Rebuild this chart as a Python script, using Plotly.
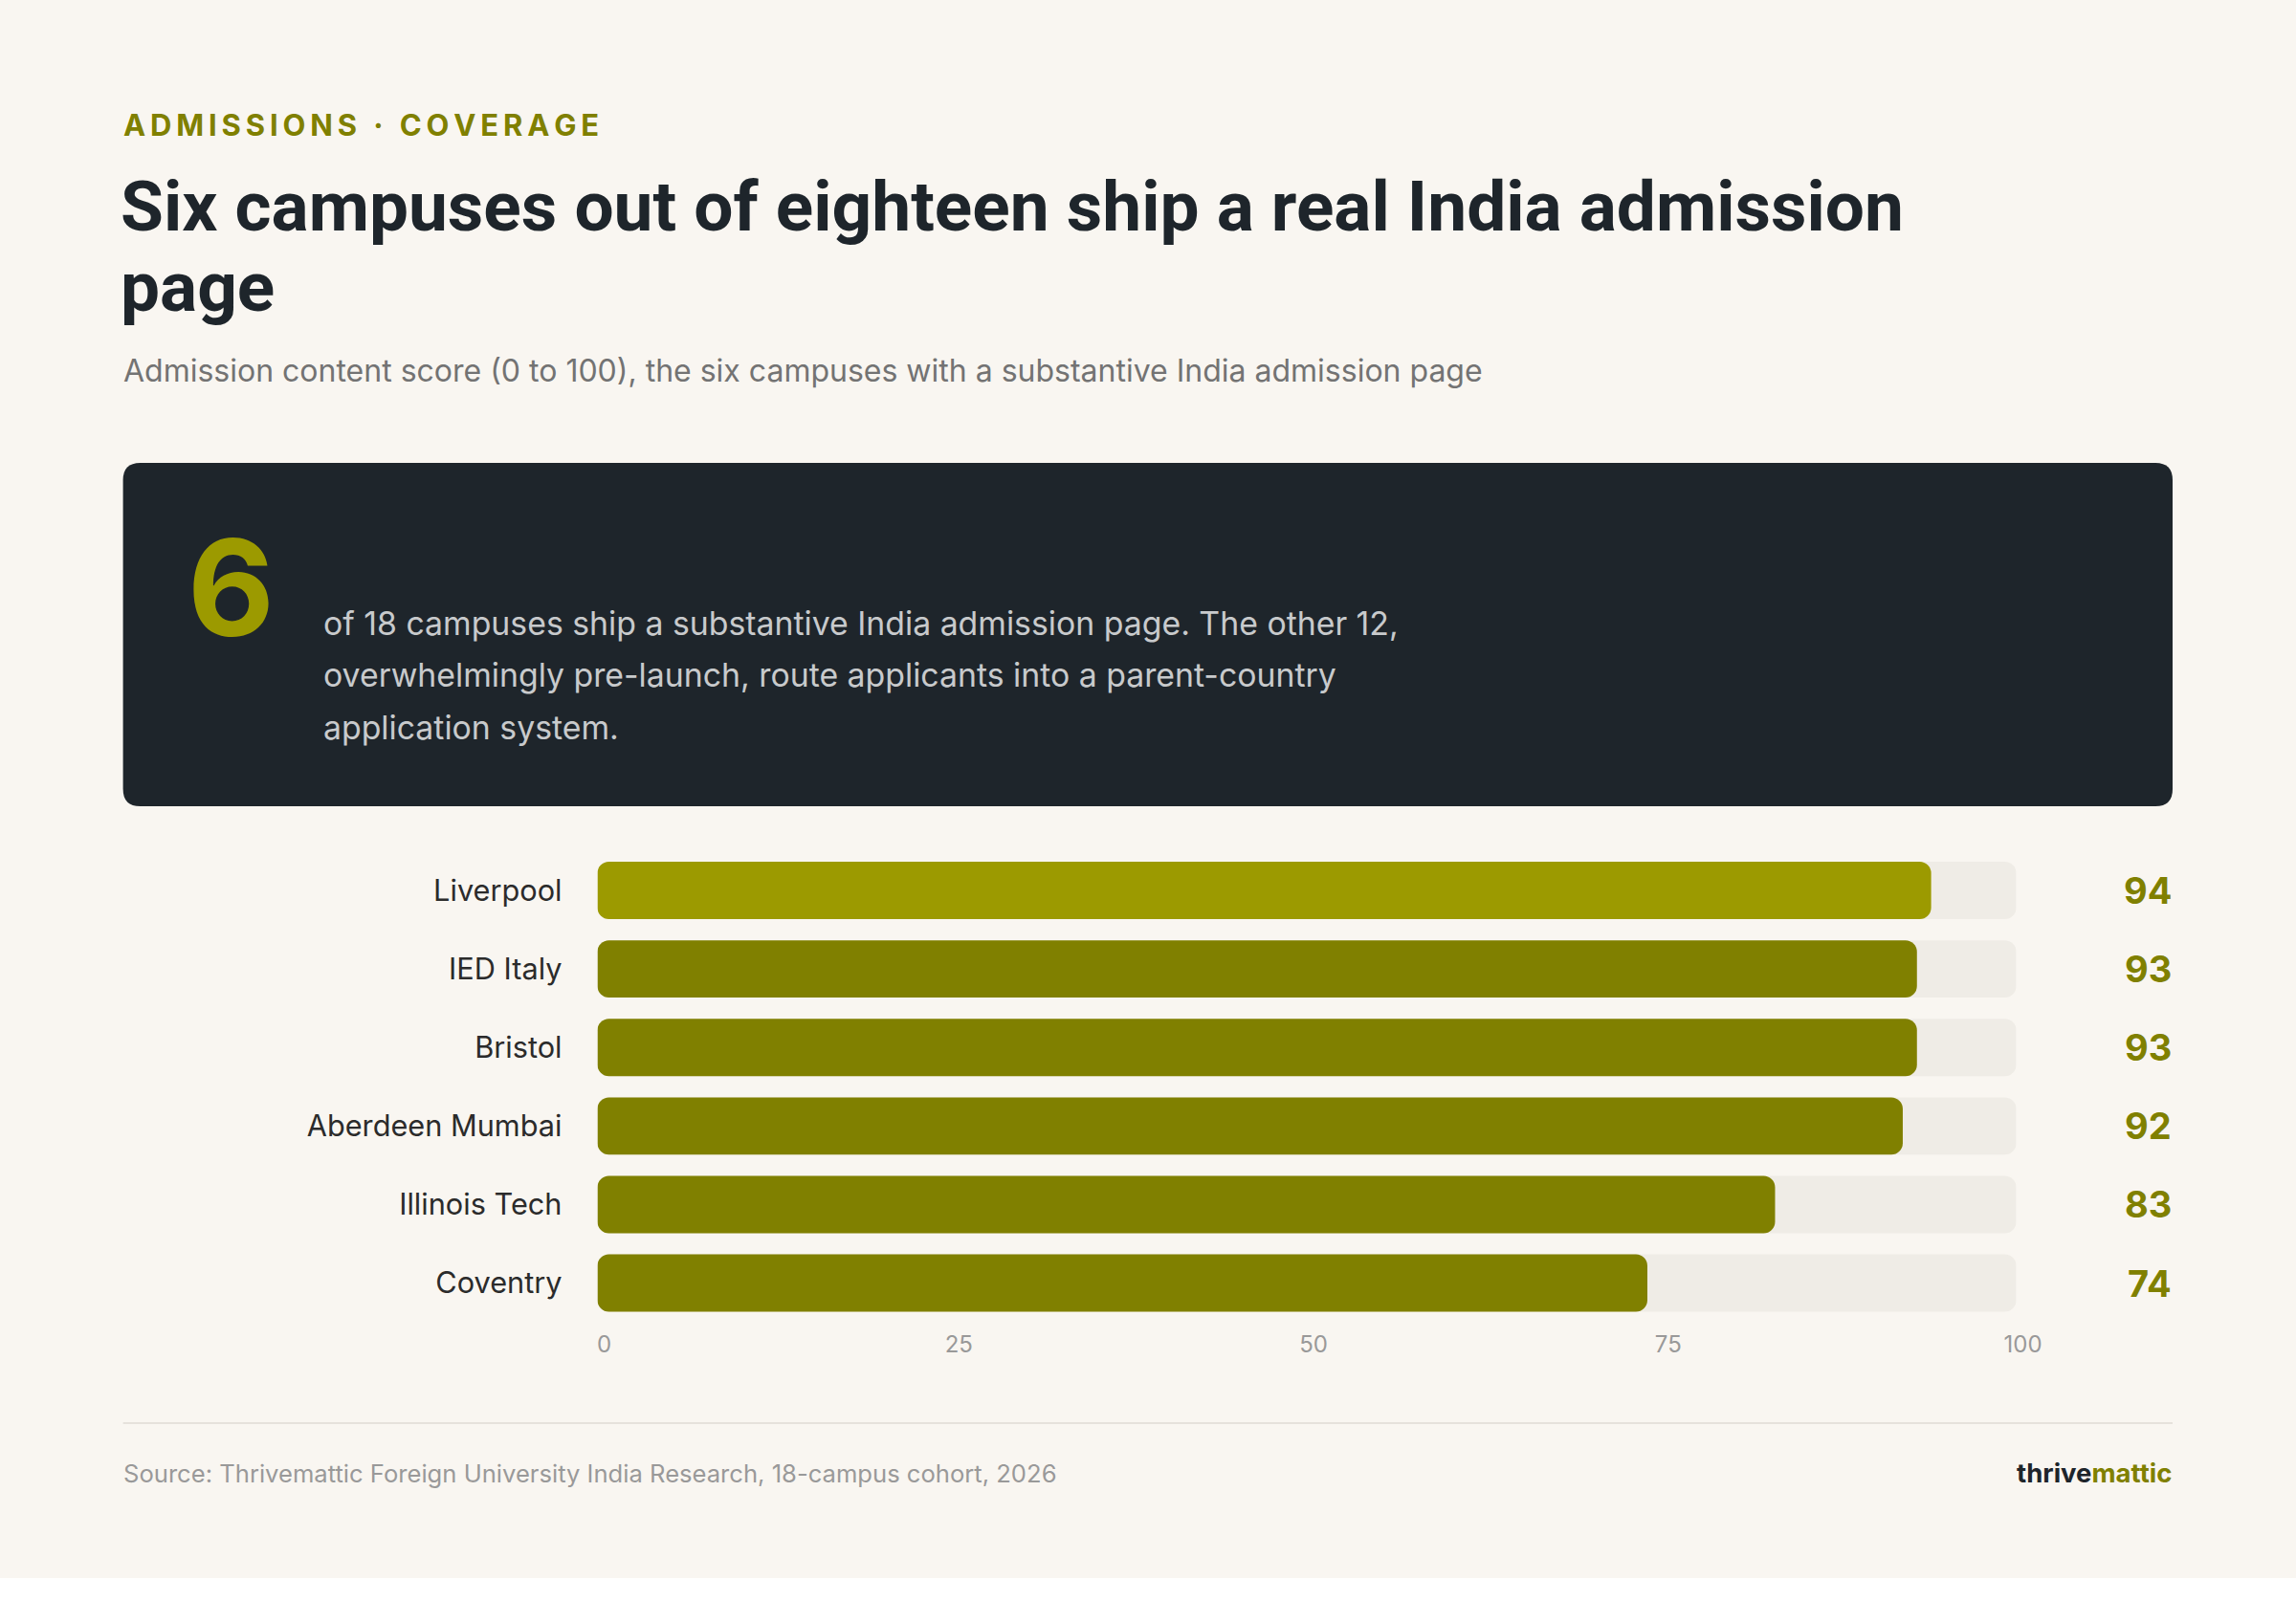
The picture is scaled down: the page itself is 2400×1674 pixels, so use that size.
import plotly.graph_objects as go

# ---- data ----
campuses = ["Liverpool", "IED Italy", "Bristol", "Aberdeen Mumbai", "Illinois Tech", "Coventry"]
scores = [94, 93, 93, 92, 83, 74]
scale_max = 100
tick_values = [0, 25, 50, 75, 100]
tick_labels = ["0", "25", "50", "75", "100"]

kicker = "ADMISSIONS · COVERAGE"
title_lines = ["Six campuses out of eighteen ship a real India admission", "page"]
subtitle = "Admission content score (0 to 100), the six campuses with a substantive India admission page"
big_number = "6"
callout_lines = [
    "of 18 campuses ship a substantive India admission page. The other 12,",
    "overwhelmingly pre-launch, route applicants into a parent-country",
    "application system.",
]
source = "Source: Thrivemattic Foreign University India Research, 18-campus cohort, 2026"

# ---- style ----
W, H = 2400, 1650
BG = "#f9f6f1"
OLIVE = "#808000"
OLIVE_HI = "#9c9a00"
DARK = "#1e252b"
TRACK = "#efece6"
FONT = "Inter"
BAR_W = 0.73


def px(x):
    return x / W


def py(y):
    return 1 - y / H


def rounded_rect(x0, y0, x1, y1, r):
    # pixel coords (y downwards) -> paper path
    X0, X1 = px(x0), px(x1)
    YT, YB = py(y0), py(y1)
    rx, ry = r / W, r / H
    return (f"M {X0+rx},{YT} L {X1-rx},{YT} Q {X1},{YT} {X1},{YT-ry} "
            f"L {X1},{YB+ry} Q {X1},{YB} {X1-rx},{YB} "
            f"L {X0+rx},{YB} Q {X0},{YB} {X0},{YB+ry} "
            f"L {X0},{YT-ry} Q {X0},{YT} {X0+rx},{YT} Z")


bar_colors = [OLIVE_HI if i == 0 else OLIVE for i in range(len(scores))]

fig = go.Figure()
# explicit base -> plotly rounds both ends of the bar
fig.add_trace(go.Bar(
    y=campuses, x=[scale_max] * len(campuses), base=[0] * len(campuses), orientation="h",
    marker=dict(color=TRACK, line=dict(width=0)), width=BAR_W,
    hoverinfo="skip", showlegend=False,
))
fig.add_trace(go.Bar(
    y=campuses, x=scores, base=[0] * len(campuses), orientation="h",
    marker=dict(color=bar_colors, line=dict(width=0)), width=BAR_W,
    hovertemplate="%{y}: %{x}<extra></extra>", showlegend=False,
))

spaced_kicker = "\u200a\u200a".join(list(kicker))

annotations = [
    dict(text=f"<b>{spaced_kicker}</b>", x=px(127), y=py(131), xanchor="left", yanchor="middle",
         font=dict(family=FONT, size=31, color=OLIVE)),
    dict(text=f"<b>{title_lines[0]}</b>", x=px(124), y=py(216), xanchor="left", yanchor="middle",
         font=dict(family="Roboto", size=73, color=DARK)),
    dict(text=f"<b>{title_lines[1]}</b>", x=px(124), y=py(300), xanchor="left", yanchor="middle",
         font=dict(family="Roboto", size=73, color=DARK)),
    dict(text=subtitle, x=px(127), y=py(387), xanchor="left", yanchor="middle",
         font=dict(family=FONT, size=32, color="#737373")),
    dict(text=f"<b>{big_number}</b>", x=px(194), y=py(614), xanchor="left", yanchor="middle",
         font=dict(family=FONT, size=140, color=OLIVE_HI)),
]
for i, line in enumerate(callout_lines):
    annotations.append(dict(text=line, x=px(336), y=py(651 + i * 54.5), xanchor="left", yanchor="middle",
                            font=dict(family=FONT, size=33.8, color="#c8cacc")))
for c, s in zip(campuses, scores):
    annotations.append(dict(text=f"<b>{s}</b>", x=px(2272), y=c, xref="paper", yref="y",
                            xanchor="right", yanchor="middle",
                            font=dict(family=FONT, size=38, color=OLIVE)))
annotations.append(dict(text=source, x=px(127), y=py(1540), xanchor="left", yanchor="middle",
                        font=dict(family=FONT, size=25.6, color="#999999")))
annotations.append(dict(text="<b>thrive<span style='color:%s'>mattic</span></b>" % OLIVE,
                        x=px(2272), y=py(1540), xanchor="right", yanchor="middle",
                        font=dict(family=FONT, size=27.5, color=DARK)))
for a in annotations:
    a.setdefault("xref", "paper")
    a.setdefault("yref", "paper")
    a["showarrow"] = False

shapes = [
    dict(type="path", xref="paper", yref="paper", path=rounded_rect(128.6, 484, 2271, 843, 18),
         fillcolor=DARK, line=dict(width=0), layer="below"),
    dict(type="line", xref="paper", yref="paper", x0=px(128.6), x1=px(2271), y0=py(1488), y1=py(1488),
         line=dict(color="#e6e2dc", width=2)),
]

fig.update_layout(
    width=W, height=H,
    paper_bgcolor=BG, plot_bgcolor=BG,
    margin=dict(l=0, r=0, t=0, b=0, autoexpand=False),
    barmode="overlay", barcornerradius=12,
    annotations=annotations, shapes=shapes,
    xaxis=dict(domain=[px(624.5), px(2107.6)], range=[0, scale_max], tickvals=tick_values, ticktext=tick_labels,
               showgrid=False, zeroline=False, showline=False, ticks="", automargin=False,
               ticklabelstandoff=6, ticklabelshift=7,
               tickfont=dict(family=FONT, size=24, color="#999999"), fixedrange=True),
    yaxis=dict(domain=[py(1382.6), py(890)], range=[len(campuses) - 0.5, -0.5], type="category",
               showgrid=False, zeroline=False, showline=False, ticks="", ticklabelstandoff=36,
               automargin=False,
               tickfont=dict(family=FONT, size=30.7, color="#2b2b2b"), fixedrange=True),
    font=dict(family=FONT),
)

post = ("document.documentElement.style.margin='0';document.body.style.margin='0';"
        "document.body.style.padding='0';document.documentElement.style.overflow='hidden';"
        "document.body.style.overflow='hidden';document.body.style.background='#ffffff';")

fig.write_html("out.html", config={"displayModeBar": False, "responsive": False}, post_script=post)
